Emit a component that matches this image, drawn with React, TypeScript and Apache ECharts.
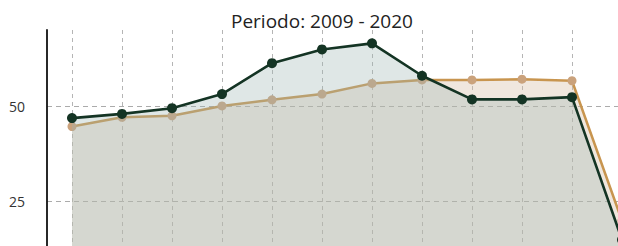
import React, { useEffect, useRef } from "react";
import * as echarts from "echarts";

const years = [2009, 2010, 2011, 2012, 2013, 2014, 2015, 2016, 2017, 2018, 2019, 2020];
const seriesGreen = [46.9, 48.0, 49.5, 53.2, 61.3, 64.9, 66.5, 58.0, 51.8, 51.8, 52.4, 15];
const seriesTan = [44.7, 47.1, 47.5, 50.1, 51.7, 53.2, 56.0, 56.9, 56.9, 57.1, 56.7, 20];
const titleText = "Periodo: 2009 - 2020";

export default function App() {
  const ref = useRef<HTMLDivElement>(null);
  useEffect(() => {
    document.body.style.margin = "0";
    document.body.style.overflow = "hidden";
    document.documentElement.style.overflow = "hidden";
    const chart = echarts.init(ref.current!, null, { renderer: "svg" });
    const font = "'Open Sans', 'Noto Sans', sans-serif";
    chart.setOption({
      animation: false,
      backgroundColor: "#ffffff",
      title: {
        text: titleText,
        left: 226,
        top: 6,
        textStyle: { fontFamily: font, fontSize: 19, fontWeight: "normal", color: "#222" },
      },
      grid: [
        { left: 47, top: 30, width: 575, height: 267, containLabel: false },
        { left: 72, top: 30, width: 550, height: 267, containLabel: false },
      ],
      xAxis: [
        {
          gridIndex: 0,
          type: "value",
          min: 2008.5,
          max: 2020,
          axisLine: { show: false },
          axisTick: { show: false },
          axisLabel: { show: false },
          splitLine: { show: false },
        },
        {
          gridIndex: 1,
          type: "value",
          min: 2009,
          max: 2020,
          interval: 1,
          axisLine: { show: false },
          axisTick: { show: false },
          axisLabel: { show: false },
          splitLine: {
            show: true,
            lineStyle: { color: "#b5b5b5", type: [4, 4], width: 1 },
          },
        },
      ],
      yAxis: [
        {
          gridIndex: 0,
          type: "value",
          min: 0,
          max: 70,
          interval: 25,
          axisLine: { show: true, lineStyle: { color: "#111", width: 1.8 } },
          axisTick: { show: false },
          axisLabel: {
            showMaxLabel: false,
            showMinLabel: false,
            margin: 22,
            fontFamily: font,
            fontSize: 14,
            color: "#333",
          },
          splitLine: {
            show: true,
            showMaxLine: false,
            lineStyle: { color: "#ababab", type: [5, 4], width: 1 },
          },
        },
        {
          gridIndex: 1,
          type: "value",
          min: 0,
          max: 70,
          axisLine: { show: false },
          axisTick: { show: false },
          axisLabel: { show: false },
          splitLine: { show: false },
        },
      ],
      series: [
        {
          name: "tan",
          type: "line",
          xAxisIndex: 0,
          yAxisIndex: 0,
          data: years.map((y, i) => [y, seriesTan[i]]),
          symbol: "circle",
          symbolSize: 9,
          lineStyle: { color: "#c8954f", width: 2.5 },
          itemStyle: { color: "#caa27c" },
          areaStyle: { color: "rgba(213,185,161,0.5)" },
          z: 2,
        },
        {
          name: "green",
          type: "line",
          xAxisIndex: 0,
          yAxisIndex: 0,
          data: years.map((y, i) => [y, seriesGreen[i]]),
          symbol: "circle",
          symbolSize: 10,
          lineStyle: { color: "#143424", width: 2.6 },
          itemStyle: { color: "#143424" },
          areaStyle: { color: "rgba(158,182,178,0.47)" },
          z: 3,
        },
      ],
    });
    return () => chart.dispose();
  }, []);
  return (
    <div
      ref={ref}
      style={{ position: "fixed", left: 0, top: 0, width: 660, height: 320 }}
    />
  );
}
